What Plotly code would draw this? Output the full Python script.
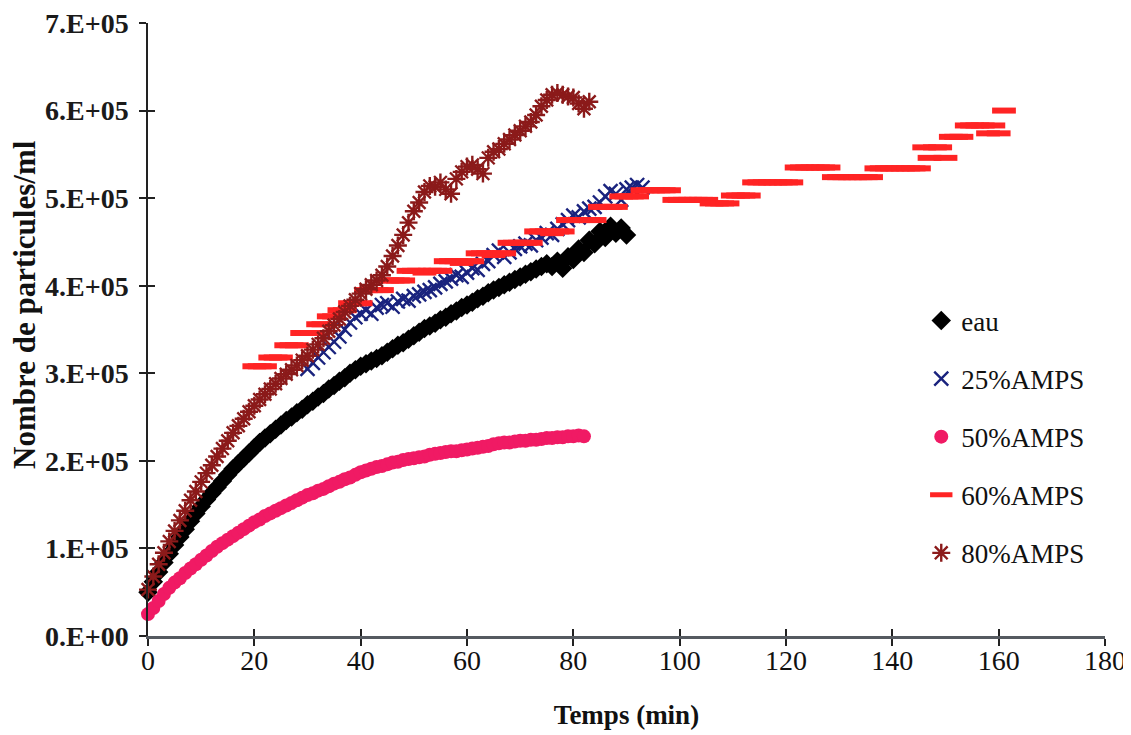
import plotly.graph_objects as go

# ---------------- data ----------------
x_ticks = [0, 20, 40, 60, 80, 100, 120, 140, 160, 180]
y_ticks = [0, 1e5, 2e5, 3e5, 4e5, 5e5, 6e5, 7e5]
y_tick_labels = ["0.E+00", "1.E+05", "2.E+05", "3.E+05", "4.E+05", "5.E+05", "6.E+05", "7.E+05"]

series_names = ["eau", "25%AMPS", "50%AMPS", "60%AMPS", "80%AMPS"]

# eau : t = 0 .. 90 min
t_eau = list(range(0, 91))
eau = [0.50e5, 0.62e5, 0.73e5, 0.84e5, 0.94e5, 1.04e5, 1.13e5, 1.22e5, 1.31e5, 1.40e5,
       1.48e5, 1.56e5, 1.63e5, 1.70e5, 1.77e5, 1.84e5, 1.91e5, 1.97e5, 2.03e5, 2.09e5,
       2.15e5, 2.21e5, 2.26e5, 2.31e5, 2.36e5, 2.41e5, 2.46e5, 2.50e5, 2.55e5, 2.59e5,
       2.64e5, 2.68e5, 2.73e5, 2.77e5, 2.82e5, 2.86e5, 2.91e5, 2.95e5, 3.00e5, 3.04e5,
       3.08e5, 3.11e5, 3.14e5, 3.17e5, 3.20e5, 3.24e5, 3.28e5, 3.32e5, 3.35e5, 3.39e5,
       3.43e5, 3.47e5, 3.51e5, 3.54e5, 3.57e5, 3.61e5, 3.64e5, 3.68e5, 3.71e5, 3.75e5,
       3.78e5, 3.81e5, 3.85e5, 3.88e5, 3.92e5, 3.95e5, 3.98e5, 4.01e5, 4.04e5, 4.07e5,
       4.10e5, 4.13e5, 4.16e5, 4.19e5, 4.22e5, 4.25e5, 4.22e5, 4.28e5, 4.20e5, 4.33e5,
       4.30e5, 4.42e5, 4.38e5, 4.52e5, 4.48e5, 4.62e5, 4.55e5, 4.68e5, 4.60e5, 4.66e5,
       4.58e5]

# 25%AMPS : t = 30 .. 93 min
t_25 = list(range(30, 94))
amps25 = [3.05e5, 3.12e5, 3.18e5, 3.24e5, 3.30e5, 3.36e5, 3.42e5, 3.50e5, 3.58e5, 3.64e5,
          3.68e5, 3.72e5, 3.68e5, 3.75e5, 3.78e5, 3.80e5, 3.76e5, 3.82e5, 3.85e5, 3.83e5,
          3.88e5, 3.90e5, 3.93e5, 3.95e5, 3.98e5, 4.02e5, 4.05e5, 4.08e5, 4.12e5, 4.10e5,
          4.15e5, 4.20e5, 4.18e5, 4.25e5, 4.28e5, 4.35e5, 4.40e5, 4.33e5, 4.38e5, 4.42e5,
          4.45e5, 4.48e5, 4.46e5, 4.52e5, 4.55e5, 4.60e5, 4.58e5, 4.65e5, 4.70e5, 4.75e5,
          4.80e5, 4.78e5, 4.85e5, 4.88e5, 4.90e5, 4.95e5, 5.02e5, 5.08e5, 5.05e5, 4.98e5,
          5.10e5, 5.12e5, 5.15e5, 5.12e5]

# 50%AMPS : t = 0 .. 82 min
t_50 = list(range(0, 83))
amps50 = [0.25e5, 0.32e5, 0.40e5, 0.48e5, 0.55e5, 0.61e5, 0.66e5, 0.72e5, 0.77e5, 0.82e5,
          0.87e5, 0.92e5, 0.97e5, 1.02e5, 1.06e5, 1.10e5, 1.14e5, 1.18e5, 1.22e5, 1.26e5,
          1.30e5, 1.33e5, 1.37e5, 1.40e5, 1.43e5, 1.46e5, 1.49e5, 1.52e5, 1.55e5, 1.58e5,
          1.61e5, 1.63e5, 1.66e5, 1.68e5, 1.71e5, 1.74e5, 1.76e5, 1.79e5, 1.81e5, 1.84e5,
          1.87e5, 1.89e5, 1.91e5, 1.93e5, 1.94e5, 1.96e5, 1.98e5, 1.99e5, 2.01e5, 2.02e5,
          2.03e5, 2.04e5, 2.05e5, 2.07e5, 2.08e5, 2.09e5, 2.10e5, 2.11e5, 2.11e5, 2.12e5,
          2.13e5, 2.14e5, 2.15e5, 2.16e5, 2.17e5, 2.19e5, 2.20e5, 2.21e5, 2.21e5, 2.22e5,
          2.23e5, 2.23e5, 2.24e5, 2.24e5, 2.25e5, 2.26e5, 2.26e5, 2.27e5, 2.27e5, 2.28e5,
          2.28e5, 2.29e5, 2.28e5]

# 60%AMPS : t = 20 .. 161 min
t_60 = list(range(20, 162))
amps60 = [3.08e5, 3.08e5, 3.08e5, 3.18e5, 3.18e5, 3.18e5, 3.32e5, 3.32e5, 3.32e5, 3.46e5,  # 20-29
          3.46e5, 3.46e5, 3.56e5, 3.56e5, 3.65e5, 3.65e5, 3.72e5, 3.72e5, 3.80e5, 3.80e5,  # 30-39
          3.80e5, 3.95e5, 3.95e5, 3.95e5, 3.95e5, 4.06e5, 4.06e5, 4.06e5, 4.06e5, 4.17e5,  # 40-49
          4.17e5, 4.17e5, 4.15e5, 4.17e5, 4.17e5, 4.17e5, 4.28e5, 4.28e5, 4.28e5, 4.26e5,  # 50-59
          4.28e5, 4.28e5, 4.37e5, 4.37e5, 4.37e5, 4.35e5, 4.37e5, 4.37e5, 4.49e5, 4.49e5,  # 60-69
          4.49e5, 4.49e5, 4.49e5, 4.62e5, 4.62e5, 4.62e5, 4.60e5, 4.62e5, 4.62e5, 4.75e5,  # 70-79
          4.75e5, 4.75e5, 4.75e5, 4.75e5, 4.75e5, 4.90e5, 4.90e5, 4.90e5, 4.90e5, 5.02e5,  # 80-89
          5.02e5, 5.02e5, 5.02e5, 5.09e5, 5.09e5, 5.09e5, 5.09e5, 5.09e5, 5.09e5, 4.98e5,  # 90-99
          4.98e5, 4.98e5, 4.98e5, 4.98e5, 4.98e5, 4.98e5, 4.94e5, 4.94e5, 4.94e5, 4.94e5,  # 100-109
          5.03e5, 5.03e5, 5.03e5, 5.03e5, 5.18e5, 5.18e5, 5.18e5, 5.18e5, 5.18e5, 5.18e5,  # 110-119
          5.18e5, 5.18e5, 5.35e5, 5.35e5, 5.35e5, 5.35e5, 5.35e5, 5.35e5, 5.35e5, 5.24e5,  # 120-129
          5.24e5, 5.24e5, 5.24e5, 5.24e5, 5.24e5, 5.24e5, 5.24e5, 5.34e5, 5.34e5, 5.34e5,  # 130-139
          5.34e5, 5.34e5, 5.34e5, 5.34e5, 5.34e5, 5.34e5, 5.58e5, 5.46e5, 5.58e5, 5.58e5,  # 140-149
          5.46e5, 5.70e5, 5.70e5, 5.70e5, 5.83e5, 5.83e5, 5.83e5, 5.83e5, 5.74e5, 5.83e5,  # 150-159
          5.74e5, 6.00e5]                                                                  # 160-161

# 80%AMPS : t = 0 .. 83 min
t_80 = list(range(0, 84))
amps80 = [0.53e5, 0.68e5, 0.82e5, 0.95e5, 1.08e5, 1.20e5, 1.32e5, 1.43e5, 1.55e5, 1.65e5,
          1.76e5, 1.86e5, 1.95e5, 2.05e5, 2.14e5, 2.23e5, 2.32e5, 2.40e5, 2.48e5, 2.56e5,
          2.63e5, 2.70e5, 2.76e5, 2.82e5, 2.88e5, 2.94e5, 2.99e5, 3.04e5, 3.09e5, 3.15e5,
          3.20e5, 3.27e5, 3.33e5, 3.40e5, 3.48e5, 3.55e5, 3.62e5, 3.70e5, 3.77e5, 3.84e5,
          3.91e5, 3.96e5, 4.01e5, 4.06e5, 4.12e5, 4.22e5, 4.34e5, 4.46e5, 4.58e5, 4.72e5,
          4.85e5, 4.95e5, 5.07e5, 5.14e5, 5.13e5, 5.18e5, 5.10e5, 5.05e5, 5.22e5, 5.30e5,
          5.36e5, 5.38e5, 5.33e5, 5.28e5, 5.46e5, 5.53e5, 5.56e5, 5.62e5, 5.67e5, 5.72e5,
          5.77e5, 5.82e5, 5.87e5, 5.95e5, 6.05e5, 6.12e5, 6.18e5, 6.20e5, 6.18e5, 6.16e5,
          6.15e5, 6.08e5, 6.02e5, 6.10e5]

# ---------------- figure ----------------
SERIF = "Liberation Serif, Times New Roman, serif"

fig = go.Figure()

fig.add_trace(go.Scatter(
    x=t_eau, y=eau, mode="markers", name=series_names[0], legendgroup="g0",
    cliponaxis=False,
    marker=dict(symbol="diamond", size=15, color="#000000")))
fig.add_trace(go.Scatter(
    x=t_25, y=amps25, mode="markers", name=series_names[1], legendgroup="g1",
    cliponaxis=False,
    marker=dict(symbol="x-thin-open", size=14, color="#1a237e",
                line=dict(width=2.4, color="#1a237e"))))
fig.add_trace(go.Scatter(
    x=t_50, y=amps50, mode="markers", name=series_names[2], legendgroup="g2",
    cliponaxis=False,
    marker=dict(symbol="circle", size=14, color="#f01a64")))
fig.add_trace(go.Scatter(
    x=t_60, y=amps60, mode="markers", name=series_names[3], legendgroup="g3",
    cliponaxis=False,
    marker=dict(symbol="line-ew-open", size=17, color="#ff2424",
                line=dict(width=6, color="#ff2424"))))
fig.add_trace(go.Scatter(
    x=t_80, y=amps80, mode="markers", name=series_names[4], legendgroup="g4",
    cliponaxis=False,
    marker=dict(symbol="asterisk-open", size=15, color="#8b1a1a",
                line=dict(width=2.4, color="#8b1a1a"))))

# dummy traces to activate overlay axes (used for crossing tick marks)
fig.add_trace(go.Scatter(x=[None], y=[None], xaxis="x2", yaxis="y",
                         showlegend=False, hoverinfo="skip"))
fig.add_trace(go.Scatter(x=[None], y=[None], xaxis="x", yaxis="y2",
                         showlegend=False, hoverinfo="skip"))

# page body has an 8px default margin -> figure sized/offset to compensate
fig.update_layout(
    width=1123, height=727,
    margin=dict(l=140, r=26, t=15, b=99, autoexpand=False),
    paper_bgcolor="white", plot_bgcolor="white",
    font=dict(family=SERIF, color="#111111"),
    showlegend=True,
    legend=dict(x=0.808, y=0.554, xanchor="left", yanchor="top",
                font=dict(family=SERIF, size=27, color="#111111"),
                bgcolor="rgba(0,0,0,0)", tracegroupgap=20,
                itemwidth=30),
    xaxis=dict(range=[0, 180], tickvals=x_ticks, ticks="outside", ticklen=7,
               tickwidth=1.5, tickcolor="#222222", automargin=False,
               showline=True, linecolor="#555a60", linewidth=2.5,
               showgrid=False, zeroline=False, ticklabelstandoff=-9,
               ticklabeloverflow="allow",
               tickfont=dict(family=SERIF, size=28, color="#111111"),
               title=dict(text="Temps (min)", standoff=30,
                          font=dict(family=SERIF, size=27, color="#111111", weight="bold"))),
    yaxis=dict(range=[0, 7e5], tickvals=y_ticks, ticktext=y_tick_labels,
               ticks="outside", ticklen=7, tickwidth=1.5, tickcolor="#222222",
               showline=True, linecolor="#222222", linewidth=1.5, automargin=False,
               showgrid=False, zeroline=False, ticklabelstandoff=5,
               ticklabeloverflow="allow",
               tickfont=dict(family=SERIF, size=28, color="#1a1a1a", weight="bold")),
    xaxis2=dict(overlaying="x", anchor="y", side="bottom", range=[0, 180],
                tickvals=x_ticks, ticks="inside", ticklen=7, tickwidth=1.5,
                tickcolor="#222222", showticklabels=False, showline=False,
                showgrid=False, zeroline=False, automargin=False),
    yaxis2=dict(overlaying="y", anchor="x", side="left", range=[0, 7e5],
                tickvals=y_ticks, ticks="inside", ticklen=7, tickwidth=1.5,
                tickcolor="#222222", showticklabels=False, showline=False,
                showgrid=False, zeroline=False, automargin=False),
    annotations=[dict(text="Nombre de particules/ml", textangle=-90,
                      xref="paper", yref="paper",
                      x=(24 - 148) / 957, y=(636 - 305) / 613,
                      xanchor="center", yanchor="middle", showarrow=False,
                      font=dict(family=SERIF, size=31, color="#111111", weight="bold"))],
)

fig.write_html("out.html")
